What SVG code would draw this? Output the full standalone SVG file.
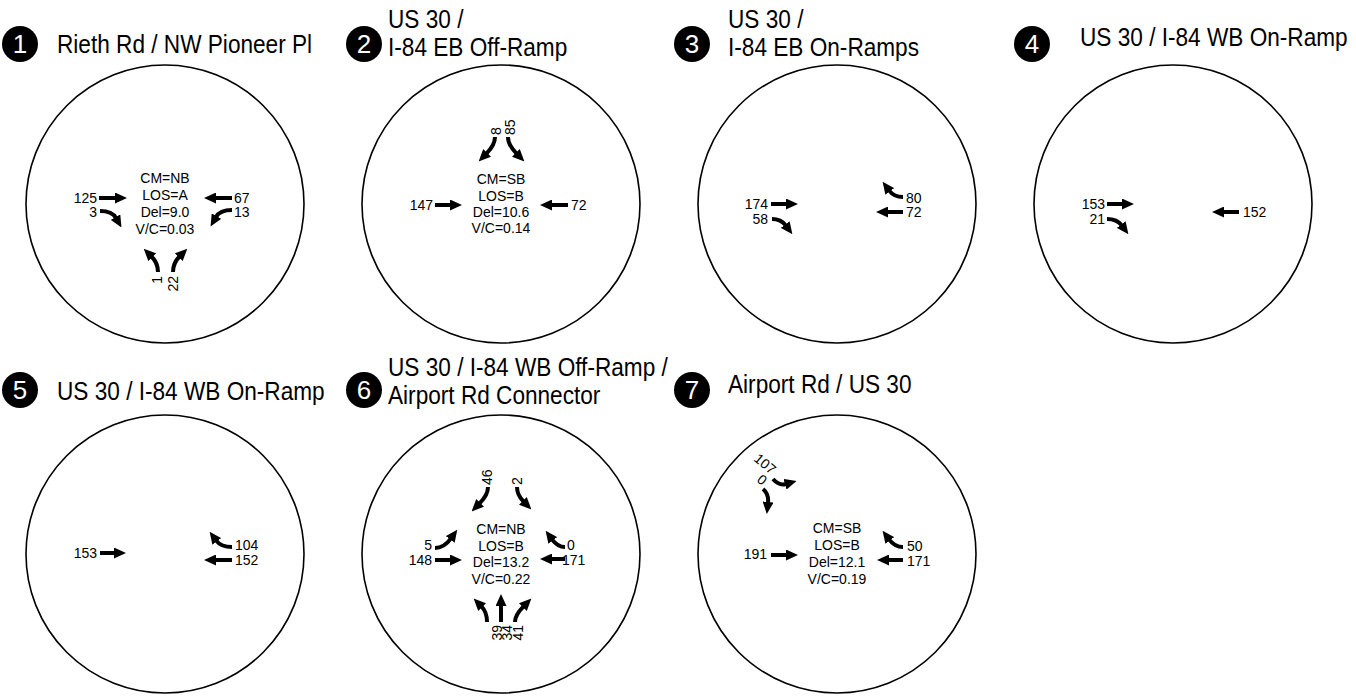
<svg xmlns="http://www.w3.org/2000/svg" width="1356" height="698" viewBox="0 0 1356 698">
<style>
text{font-family:"Liberation Sans",Arial,sans-serif;fill:#000}
.ring{fill:none;stroke:#000;stroke-width:1.6}
.badge{fill:#000}
.num{fill:#fff;font-size:26px;text-anchor:middle}
.title{font-size:26px}
.lbl{font-size:14px}
.ctr{font-size:14px;text-anchor:middle}
.e{text-anchor:end}
.mv{fill:none;stroke:#000;stroke-width:4;marker-end:url(#ah)}
</style>
<defs>
<marker id="ah" viewBox="0 0 12 11" markerWidth="12" markerHeight="11" refX="1" refY="5.5" markerUnits="userSpaceOnUse" orient="auto">
<path d="M0,0 L12,5.5 L0,11 z" fill="#000"/>
</marker>
</defs>
<rect width="1356" height="698" fill="#fff"/>

<g id="int1">
<circle class="badge" cx="20" cy="44" r="18"/><text class="num" x="20" y="53">1</text>
<text class="title" transform="translate(57,53) scale(0.87,1)">Rieth Rd / NW Pioneer Pl</text>
<circle class="ring" cx="165" cy="204" r="139"/>
<text class="ctr" x="165" y="183">CM=NB</text><text class="ctr" x="165" y="200">LOS=A</text><text class="ctr" x="165" y="217">Del=9.0</text><text class="ctr" x="165" y="234">V/C=0.03</text>
<path class="mv" d="M99,198 H116"/><text class="lbl e" x="97" y="203">125</text>
<path class="mv" d="M100,211 Q112,211 116,218"/><text class="lbl e" x="97" y="217">3</text>
<path class="mv" d="M232,198 H215"/><text class="lbl" x="234" y="203">67</text>
<path class="mv" d="M232,210 Q220,210 216,217"/><text class="lbl" x="234" y="217">13</text>
<path class="mv" d="M158,272 Q158,263 151.5,256.5"/><text class="lbl e" transform="translate(162,276) rotate(-90)">1</text>
<path class="mv" d="M173,272 Q173,263 179.5,256.5"/><text class="lbl e" transform="translate(178,276) rotate(-90)">22</text>
</g>

<g id="int2">
<circle class="badge" cx="364" cy="44" r="18"/><text class="num" x="364" y="53">2</text>
<text class="title" transform="translate(388,28) scale(0.87,1)">US 30 /</text>
<text class="title" transform="translate(388,56) scale(0.87,1)">I-84 EB Off-Ramp</text>
<circle class="ring" cx="501" cy="204" r="139"/>
<text class="ctr" x="501" y="184">CM=SB</text><text class="ctr" x="501" y="201">LOS=B</text><text class="ctr" x="501" y="217">Del=10.6</text><text class="ctr" x="501" y="233">V/C=0.14</text>
<path class="mv" d="M435,205 H451"/><text class="lbl e" x="433" y="210">147</text>
<path class="mv" d="M568,205 H551"/><text class="lbl" x="571" y="210">72</text>
<path class="mv" d="M495,137 Q495,145 486.4,153.6"/><text class="lbl" transform="translate(501,135) rotate(-90)">8</text>
<path class="mv" d="M508,137 Q508,145 516.6,153.6"/><text class="lbl" transform="translate(515,135) rotate(-90)">85</text>
</g>

<g id="int3">
<circle class="badge" cx="692" cy="44" r="18"/><text class="num" x="692" y="53">3</text>
<text class="title" transform="translate(728,28) scale(0.87,1)">US 30 /</text>
<text class="title" transform="translate(728,56) scale(0.87,1)">I-84 EB On-Ramps</text>
<circle class="ring" cx="837" cy="204" r="139"/>
<path class="mv" d="M771,204 H787"/><text class="lbl e" x="768" y="209">174</text>
<path class="mv" d="M772,219 Q781,219 785.8,225.4"/><text class="lbl e" x="768" y="224">58</text>
<path class="mv" d="M903,197 Q894,197 889.2,190.6"/><text class="lbl" x="906" y="203">80</text>
<path class="mv" d="M903,212 H887"/><text class="lbl" x="906" y="217">72</text>
</g>

<g id="int4">
<circle class="badge" cx="1032" cy="44" r="18"/><text class="num" x="1032" y="53">4</text>
<text class="title" transform="translate(1080,46) scale(0.87,1)">US 30 / I-84 WB On-Ramp</text>
<circle class="ring" cx="1173" cy="204" r="139"/>
<path class="mv" d="M1107,204 H1123"/><text class="lbl e" x="1105" y="209">153</text>
<path class="mv" d="M1107,219 Q1117,219 1121.8,225.4"/><text class="lbl e" x="1105" y="224">21</text>
<path class="mv" d="M1239,212 H1223"/><text class="lbl" x="1243" y="217">152</text>
</g>

<g id="int5">
<circle class="badge" cx="20" cy="390" r="18"/><text class="num" x="20" y="399">5</text>
<text class="title" transform="translate(57,400) scale(0.87,1)">US 30 / I-84 WB On-Ramp</text>
<circle class="ring" cx="165" cy="554" r="139"/>
<path class="mv" d="M100,553 H115"/><text class="lbl e" x="97" y="558">153</text>
<path class="mv" d="M232,547 Q221,547 216.2,540.6"/><text class="lbl" x="235" y="550">104</text>
<path class="mv" d="M232,560 H215"/><text class="lbl" x="235" y="565">152</text>
</g>

<g id="int6">
<circle class="badge" cx="364" cy="390" r="18"/><text class="num" x="364" y="399">6</text>
<text class="title" transform="translate(388,376) scale(0.87,1)">US 30 / I-84 WB Off-Ramp /</text>
<text class="title" transform="translate(388,404) scale(0.87,1)">Airport Rd Connector</text>
<circle class="ring" cx="501" cy="554" r="139"/>
<text class="ctr" x="501" y="534">CM=NB</text><text class="ctr" x="501" y="551">LOS=B</text><text class="ctr" x="501" y="567">Del=13.2</text><text class="ctr" x="501" y="584">V/C=0.22</text>
<path class="mv" d="M435,560 H451"/><text class="lbl e" x="432" y="565">148</text>
<path class="mv" d="M435,548 Q444,548 450.8,538.6"/><text class="lbl e" x="432" y="550">5</text>
<path class="mv" d="M565,559 H551"/><text class="lbl" x="562" y="565">171</text>
<path class="mv" d="M565,547 Q557.7,547 552.2,539.6"/><text class="lbl" x="567" y="550">0</text>
<path class="mv" d="M488,487 Q488,495 479.4,503.6"/><text class="lbl" transform="translate(492,485) rotate(-90)">46</text>
<path class="mv" d="M517,487 Q517,495 523.6,501.6"/><text class="lbl" transform="translate(522,485) rotate(-90)">2</text>
<path class="mv" d="M487,622 Q487,612 481.4,606.4"/><text class="lbl e" transform="translate(502,625) rotate(-90)">39</text>
<path class="mv" d="M501,622 V605"/><text class="lbl e" transform="translate(512,625) rotate(-90)">34</text>
<path class="mv" d="M515,622 Q515,615 523.6,606.4"/><text class="lbl e" transform="translate(523,625) rotate(-90)">41</text>
</g>

<g id="int7">
<circle class="badge" cx="692" cy="390" r="18"/><text class="num" x="692" y="399">7</text>
<text class="title" transform="translate(728,393) scale(0.87,1)">Airport Rd / US 30</text>
<circle class="ring" cx="837" cy="554" r="139"/>
<text class="ctr" x="837" y="533">CM=SB</text><text class="ctr" x="837" y="550">LOS=B</text><text class="ctr" x="837" y="567">Del=12.1</text><text class="ctr" x="837" y="584">V/C=0.19</text>
<path class="mv" d="M771,555 H787"/><text class="lbl e" x="767" y="559">191</text>
<path class="mv" d="M903,547 Q894.8,547 889.2,539.6"/><text class="lbl" x="907" y="551">50</text>
<path class="mv" d="M903,560 H888"/><text class="lbl" x="907" y="566">171</text>
<path class="mv" d="M773,479 Q779,486 786,484"/><text class="lbl e" transform="translate(771,475) rotate(40)">107</text>
<path class="mv" d="M763,489 Q769,494 768,503"/><text class="lbl e" transform="translate(762,486) rotate(40)">0</text>
</g>
</svg>
